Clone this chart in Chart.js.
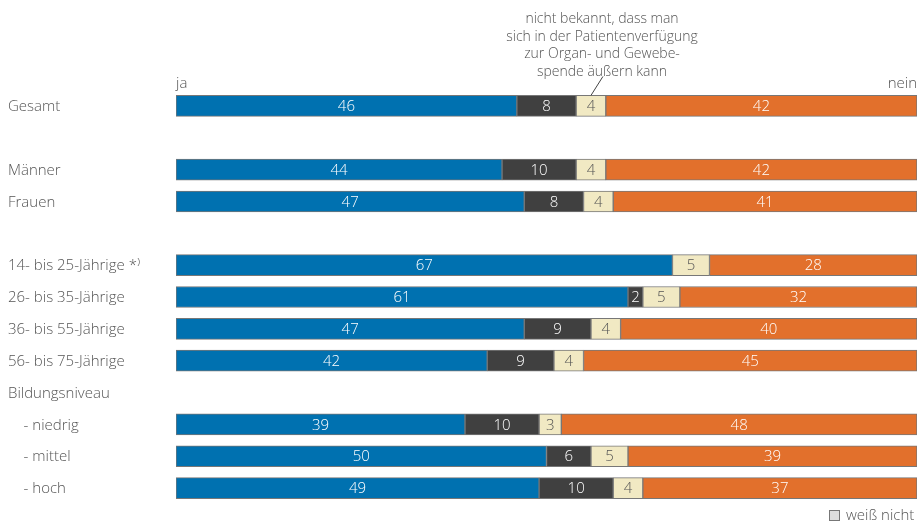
<!DOCTYPE html>
<html>
<head>
<meta charset="utf-8">
<script src="https://cdn.jsdelivr.net/npm/chart.js@4.4.0/dist/chart.umd.min.js"></script>
<style>
  body { margin: 0; background: #fff; }
  #wrap { width: 919px; height: 522px; }
</style>
</head>
<body>
<div id="wrap"><canvas id="chart" width="919" height="522"></canvas></div>
<script>
// -------------------------------
// Data
// -------------------------------
const categories = ['Gesamt', '', 'Männer', 'Frauen', '', '14- bis 25-Jährige *⁾', '26- bis 35-Jährige',
  '36- bis 55-Jährige', '56- bis 75-Jährige', 'Bildungsniveau', '    - niedrig', '    - mittel', '    - hoch'];
const ja           = [46, null, 44, 47, null, 67, 61, 47, 42, null, 39, 50, 49];
const nichtBekannt = [8, null, 10, 8, null, 0, 2, 9, 9, null, 10, 6, 10];
const weissNicht   = [4, null, 4, 4, null, 5, 5, 4, 4, null, 3, 5, 4];
const nein         = [42, null, 42, 41, null, 28, 32, 40, 45, null, 48, 39, 37];

const FONT = '"Open Sans", sans-serif';
const TEXT = '#555';
const annotation = ['nicht bekannt, dass man', 'sich in der Patientenverfügung', 'zur Organ- und Gewebe-', 'spende äußern kann'];

// -------------------------------
// Labels plugin
// -------------------------------
const labelsPlugin = {
  id: 'labels',
  afterDatasetsDraw(chart) {
    const ctx = chart.ctx;
    ctx.save();
    ctx.font = '300 15px ' + FONT;
    ctx.textAlign = 'center';
    ctx.textBaseline = 'middle';
    chart.data.datasets.forEach((ds, i) => {
      const meta = chart.getDatasetMeta(i);
      meta.data.forEach((el, j) => {
        const v = ds.data[j];
        if (!v) return;
        const { x, y, base } = el.getProps(['x', 'y', 'base'], true);
        ctx.fillStyle = ds.textColor;
        ctx.fillText(String(v), (x + base) / 2, y + 1);
      });
    });
    ctx.restore();
  },
  afterDraw(chart) {
    const ctx = chart.ctx;
    const area = chart.chartArea;
    ctx.save();
    ctx.fillStyle = TEXT;
    ctx.font = '300 15px ' + FONT;
    ctx.textBaseline = 'alphabetic';
    ctx.textAlign = 'left';
    ctx.fillText('ja', area.left, 88);
    ctx.textAlign = 'right';
    ctx.fillText('nein', area.right, 88);

    // annotation above Gesamt
    ctx.font = '300 14px ' + FONT;
    ctx.textAlign = 'center';
    ctx.textBaseline = 'middle';
    annotation.forEach((line, k) => ctx.fillText(line, 602, 19 + k * 17.7));
    const el = chart.getDatasetMeta(2).data[0];
    const p = el.getProps(['x', 'y', 'base', 'height'], true);
    const cx = (p.x + p.base) / 2;
    const top = p.y - p.height / 2;
    ctx.strokeStyle = '#444';
    ctx.lineWidth = 1;
    ctx.beginPath();
    ctx.moveTo(cx + 12, top - 19);
    ctx.lineTo(cx, top);
    ctx.stroke();

    // legend
    ctx.fillStyle = '#dedede';
    ctx.strokeStyle = '#777';
    ctx.fillRect(829.5, 510.5, 10, 10);
    ctx.strokeRect(829.5, 510.5, 10, 10);
    ctx.fillStyle = TEXT;
    ctx.font = '300 15px ' + FONT;
    ctx.textAlign = 'left';
    ctx.fillText('weiß nicht', 846, 516);
    ctx.restore();
  }
};

// -------------------------------
// Chart.js
// -------------------------------
const seg = (label, data, color, textColor) => ({
  label, data, textColor,
  backgroundColor: color,
  borderColor: '#777',
  borderWidth: 1,
  borderSkipped: false,
  barThickness: 21
});

new Chart(document.getElementById('chart'), {
  type: 'bar',
  data: {
    labels: categories,
    datasets: [
      seg('ja', ja, '#0071b0', '#fff'),
      seg('nicht bekannt', nichtBekannt, '#404040', '#fff'),
      seg('weiß nicht', weissNicht, '#f1e9c3', '#555'),
      seg('nein', nein, '#e2702c', '#fff')
    ]
  },
  options: {
    indexAxis: 'y',
    responsive: false,
    animation: false,
    layout: { padding: { top: 90, bottom: 18, left: 8, right: 2 } },
    plugins: { legend: { display: false }, tooltip: { enabled: false } },
    scales: {
      x: { stacked: true, min: 0, max: 100, display: false },
      y: {
        stacked: true,
        grid: { display: false },
        border: { display: false },
        afterFit(scale) { scale.width = 168; },
        ticks: {
          crossAlign: 'far',
          padding: 0,
          labelOffset: 1,
          color: TEXT,
          font: { family: '"Open Sans", sans-serif', size: 15, weight: '300' }
        }
      }
    }
  },
  plugins: [labelsPlugin]
});
</script>
</body>
</html>
